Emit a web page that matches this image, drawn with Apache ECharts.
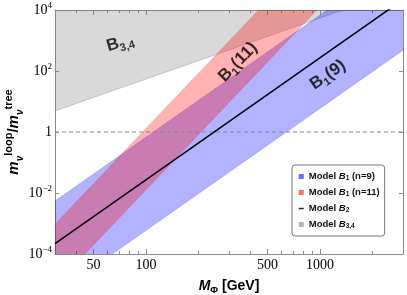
<!DOCTYPE html>
<html><head><meta charset="utf-8">
<script src="https://cdn.jsdelivr.net/npm/echarts@6.0.0/dist/echarts.min.js"></script>
<style>html,body{margin:0;padding:0;background:#fff}#c{width:407px;height:295px}</style>
</head><body><div id="c"></div>
<script>
// ---- data ----
const massGeV      = [30, 3000];
const b2Ratio      = [2.2e-4, 2.2e4];
const b1n9Upper    = [5.5e-3, 5.5e5];
const b1n9Lower    = [4.8e-6, 4.8e2];
const b1n11Upper   = [9.5e-4, 9.5e8];
const b1n11Lower   = [9.3e-6, 9.3e6];
const b34Lower     = [4.9, 4.9e4];
const b34Upper     = [1e4, 1e4];
const treeLevel    = [1, 1];
const xTickLabels  = [50, 100, 500, 1000];
const xMinorTicks  = [40, 60, 70, 80, 90, 200, 300, 400, 600, 700, 800, 900, 2000];
const yTickLabels  = [1e-4, 1e-2, 1, 1e2, 1e4];
const regionLabels = ['{b|B}{s|3,4}', '{b|B}{s|1}{b|(11)}', '{b|B}{s|1}{b|(9)}'];
const regionMass   = [71, 338, 1110];
const regionRatio  = [830, 197, 74];

const XMIN = 30, XMAX = 3000, YMIN = 1e-4, YMAX = 1e4;
const frame = '#8a8a8a';

function band(name, lower, upper, fill, edge, legendColor) {
  return {
    type: 'custom', name: name, coordinateSystem: 'cartesian2d',
    itemStyle: { color: legendColor },
    data: massGeV.map((m, i) => [m, lower[i], upper[i]]),
    renderItem: function (params, api) {
      if (params.dataIndex !== 0) return null;
      const lo = [], up = [];
      for (let i = 0; i < massGeV.length; i++) {
        lo.push(api.coord([massGeV[i], lower[i]]));
        up.push(api.coord([massGeV[i], upper[i]]));
      }
      const cs = params.coordSys;
      return {
        type: 'group',
        clipPath: { type: 'rect', shape: { x: cs.x, y: cs.y, width: cs.width, height: cs.height } },
        children: [
          { type: 'polygon', shape: { points: lo.concat(up.slice().reverse()) }, style: { fill: fill, stroke: null } },
          { type: 'polyline', shape: { points: lo }, style: { fill: null, stroke: edge, lineWidth: 1 } },
          { type: 'polyline', shape: { points: up }, style: { fill: null, stroke: edge, lineWidth: 1 } }
        ]
      };
    }
  };
}

const supRich = {
  sup: { fontFamily: 'Liberation Serif', fontSize: 9, lineHeight: 9, verticalAlign: 'top', color: '#000' }
};

function yFmt(v) {
  const e = Math.round(Math.log10(v));
  if (e === 0) return '1';
  return '10{sup|' + (e < 0 ? '\u2212' + (-e) : e) + '}';
}

const option = {
  animation: false,
  backgroundColor: '#fff',
  grid: { left: 55, top: 10, right: 4, bottom: 41, containLabel: false, outerBoundsMode: 'none' },
  xAxis: [
    { type: 'log', min: XMIN, max: XMAX, position: 'bottom',
      axisLine: { show: true, lineStyle: { color: frame, width: 1 } },
      axisTick: { show: true, inside: true, length: 5, customValues: xTickLabels, lineStyle: { color: frame } },
      axisLabel: { customValues: xTickLabels, formatter: v => String(Math.round(v)),
        fontFamily: 'Liberation Serif', fontSize: 14, color: '#000', margin: 4 },
      splitLine: { show: false }, minorTick: { show: false },
      name: '{i|M}{s|\u03A6}{b| [GeV]}', nameLocation: 'middle', nameGap: 23,
      nameTextStyle: { fontFamily: 'Liberation Sans', fontWeight: 'bold', fontSize: 14, color: '#000', lineHeight: 18,
        rich: {
          i: { fontFamily: 'Liberation Sans', fontWeight: 'bold', fontStyle: 'italic', fontSize: 14, lineHeight: 18 },
          s: { fontFamily: 'Liberation Sans', fontWeight: 'bold', fontSize: 9.5, lineHeight: 9, verticalAlign: 'bottom' },
          b: { fontFamily: 'Liberation Sans', fontWeight: 'bold', fontSize: 14, lineHeight: 18 }
        } } },
    { type: 'log', min: XMIN, max: XMAX, position: 'bottom',
      axisLine: { show: false }, axisLabel: { show: false }, splitLine: { show: false },
      axisTick: { show: true, inside: true, length: 3, customValues: xMinorTicks, lineStyle: { color: frame } } },
    { type: 'log', min: XMIN, max: XMAX, position: 'top',
      axisLine: { show: true, lineStyle: { color: frame } }, axisLabel: { show: false }, splitLine: { show: false },
      axisTick: { show: true, inside: true, length: 5, customValues: xTickLabels, lineStyle: { color: frame } } },
    { type: 'log', min: XMIN, max: XMAX, position: 'top',
      axisLine: { show: false }, axisLabel: { show: false }, splitLine: { show: false },
      axisTick: { show: true, inside: true, length: 3, customValues: xMinorTicks, lineStyle: { color: frame } } }
  ],
  yAxis: [
    { type: 'log', min: YMIN, max: YMAX, position: 'left',
      axisLine: { show: true, lineStyle: { color: frame } },
      axisTick: { show: true, inside: true, length: 4, customValues: yTickLabels, lineStyle: { color: frame } },
      axisLabel: { customValues: yTickLabels, formatter: yFmt, fontFamily: 'Liberation Serif', fontSize: 14,
        color: '#000', margin: 3, lineHeight: 18, rich: supRich },
      splitLine: { show: false }, minorTick: { show: false },
      name: '{i|m}{s|\u03BD}{p|loop}{b|/}{i|m}{s|\u03BD}{p|tree}',
      nameLocation: 'middle', nameRotate: 90, nameGap: 30, nameMoveOverlap: false,
      nameTextStyle: { fontFamily: 'Liberation Sans', fontWeight: 'bold', fontSize: 15, color: '#000', lineHeight: 22,
        rich: {
          i: { fontFamily: 'Liberation Sans', fontWeight: 'bold', fontStyle: 'italic', fontSize: 15, lineHeight: 22 },
          s: { fontFamily: 'Liberation Sans', fontWeight: 'bold', fontStyle: 'italic', fontSize: 10, lineHeight: 10, verticalAlign: 'bottom' },
          p: { fontFamily: 'Liberation Sans', fontWeight: 'bold', fontSize: 11, lineHeight: 11, verticalAlign: 'top' },
          b: { fontFamily: 'Liberation Sans', fontWeight: 'bold', fontSize: 15, lineHeight: 22 }
        } } },
    { type: 'log', min: YMIN, max: YMAX, position: 'right',
      axisLine: { show: true, lineStyle: { color: frame } }, axisLabel: { show: false }, splitLine: { show: false },
      axisTick: { show: true, inside: true, length: 4, customValues: yTickLabels, lineStyle: { color: frame } } }
  ],
  legend: {
    orient: 'vertical', left: 292, top: 165, padding: [6, 5, 6, 6],
    itemWidth: 5, itemHeight: 5, itemGap: 5,
    backgroundColor: '#fff', borderColor: '#777', borderWidth: 1, borderRadius: 3,
    selectedMode: false,
    data: [
      { name: 'Model B1 (n=9)', icon: 'rect' },
      { name: 'Model B1 (n=11)', icon: 'rect' },
      { name: 'Model B2', itemStyle: { color: 'rgba(0,0,0,0)', borderWidth: 0 }, lineStyle: { width: 1.5, color: '#222' } },
      { name: 'Model B3,4', icon: 'rect' }
    ],
    formatter: function (n) {
      const m = {
        'Model B1 (n=9)': '{t|Model }{i|B}{s|1}{t| (n=9)}',
        'Model B1 (n=11)': '{t|Model }{i|B}{s|1}{t| (n=11)}',
        'Model B2': '{t|Model }{i|B}{s|2}',
        'Model B3,4': '{t|Model }{i|B}{s|3,4}'
      };
      return m[n];
    },
    textStyle: { fontFamily: 'Liberation Sans', fontWeight: 'bold', fontSize: 9.5, color: '#111', lineHeight: 11,
      rich: {
        t: { fontFamily: 'Liberation Sans', fontWeight: 'bold', fontSize: 9.5, lineHeight: 11 },
        i: { fontFamily: 'Liberation Sans', fontWeight: 'bold', fontStyle: 'italic', fontSize: 9.5, lineHeight: 11 },
        s: { fontFamily: 'Liberation Sans', fontWeight: 'bold', fontSize: 6.5, lineHeight: 6, verticalAlign: 'bottom' }
      } }
  },
  series: [
    band('Model B3,4', b34Lower, b34Upper, 'rgba(128,128,128,0.3)', 'rgba(128,128,128,0.35)', '#b4b4b4'),
    band('Model B1 (n=9)', b1n9Lower, b1n9Upper, 'rgba(0,0,255,0.3)', 'rgba(0,0,255,0.18)', '#6c6cff'),
    band('Model B1 (n=11)', b1n11Lower, b1n11Upper, 'rgba(255,0,0,0.3)', 'rgba(255,0,0,0.18)', '#ff6c6c'),
    { type: 'line', name: 'Model B2', data: massGeV.map((m, i) => [m, b2Ratio[i]]),
      symbol: 'none', clip: true, itemStyle: { color: '#000' }, lineStyle: { color: '#000', width: 1.5 } },
    { type: 'line', name: 'tree', data: massGeV.map((m, i) => [m, treeLevel[i]]),
      symbol: 'none', clip: true, lineStyle: { color: '#888', width: 1.2, type: [4, 3] }, silent: true },
    { type: 'scatter', name: 'labels', symbolSize: 0, silent: true,
      data: regionMass.map((m, i) => ({
        value: [m, regionRatio[i]],
        label: { rotate: [16, 46, 35][i], formatter: regionLabels[i] }
      })),
      label: { show: true, position: 'inside', align: 'center', verticalAlign: 'middle', color: '#000',
        rich: {
          b: { fontFamily: 'Liberation Sans', fontWeight: 'bold', fontSize: 17, lineHeight: 22, color: '#000' },
          s: { fontFamily: 'Liberation Sans', fontWeight: 'bold', fontSize: 11, lineHeight: 11, verticalAlign: 'bottom', color: '#000' }
        } } }
  ]
};

const chart = echarts.init(document.getElementById('c'), null, { renderer: 'canvas' });
chart.setOption(option);
</script>
</body></html>
